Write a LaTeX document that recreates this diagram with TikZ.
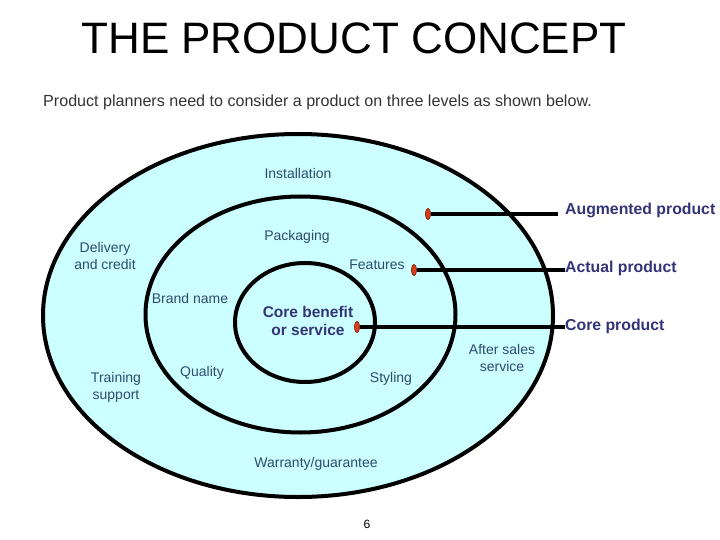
\documentclass[tikz,border=0pt]{standalone}
\usepackage{fontspec}
\setmainfont{Liberation Sans}
\definecolor{ringfill}{HTML}{CCFFFF}
\definecolor{lbl}{HTML}{2E4A6E}
\definecolor{bold}{HTML}{333377}
\definecolor{dotred}{HTML}{D8401C}
\tikzset{
  ring/.style={draw=black, line width=4pt, fill=ringfill},
  lab/.style={text=lbl, font=\fontsize{14}{17}\selectfont, align=center, inner sep=0pt},
  blab/.style={text=bold, font=\fontsize{15.8}{18}\selectfont\bfseries, inner sep=0pt, anchor=west},
  pin/.style={draw=dotred!60!black, line width=0.6pt, fill=dotred, ellipse, minimum width=5pt, minimum height=11pt, inner sep=0pt},
  conn/.style={draw=black, line width=4pt}
}
\usetikzlibrary{shapes.geometric}
\begin{document}
\begin{tikzpicture}[x=1pt,y=-1pt]
\useasboundingbox (0,0) rectangle (720,540);
% title
\node (title) at (354,38) {\fontsize{44}{50}\selectfont THE PRODUCT CONCEPT};
\node[anchor=west, inner sep=0pt] (sub) at (43,102) {\fontsize{16.1}{18}\selectfont\color{black!80}Product planners need to consider a product on three levels as shown below.};
% rings
\draw[ring] (298,315.5) ellipse [x radius=255pt, y radius=181.5pt];
\draw[ring] (300.5,314.5) ellipse [x radius=155pt, y radius=118pt];
\draw[ring] (305,322.5) ellipse [x radius=70pt, y radius=59.5pt];
% labels
\node[lab] (inst) at (298,173) {Installation};
\node[lab] (pack) at (297,237) {Packaging};
\node[lab] (deliv) at (105,256) {Delivery\\and credit};
\node[lab] (feat) at (377,265) {Features};
\node[lab] (brand) at (190,298) {Brand name};
\node[text=bold, font=\fontsize{15.5}{18}\selectfont\bfseries, align=center, inner sep=0pt] (core) at (308,321) {Core benefit\\or service};
\node[lab] (qual) at (202,373) {Quality};
\node[lab] (train) at (116,387) {Training\\support};
\node[lab] (styl) at (391,379) {Styling};
\node[lab] (after) at (502,358) {After sales\\service};
\node[lab] (warr) at (316,464) {Warranty/guarantee};
\node[inner sep=0pt] (page) at (367,524) {\fontsize{12}{14}\selectfont 6};
% side labels
\node[blab] (aug) at (565,210) {Augmented product};
\node[blab] (act) at (565,268) {Actual product};
\node[blab] (corep) at (565,326) {Core product};
% pins
\node[pin] (pa) at (428,214) {};
\node[pin] (pb) at (414,270) {};
\node[pin] (pc) at (357,327) {};
% connectors
\coordinate (ae) at (pa.east -| aug.west);
\draw[conn, shorten >=7pt] (pa.east) -- (ae);
\draw[conn] (pb.east) -- (pb.east -| act.west);
\draw[conn] (pc.east) -- (pc.east -| corep.west);
\node[pin] at (pa) {};
\node[pin] at (pb) {};
\node[pin] at (pc) {};
\end{tikzpicture}
\end{document}
